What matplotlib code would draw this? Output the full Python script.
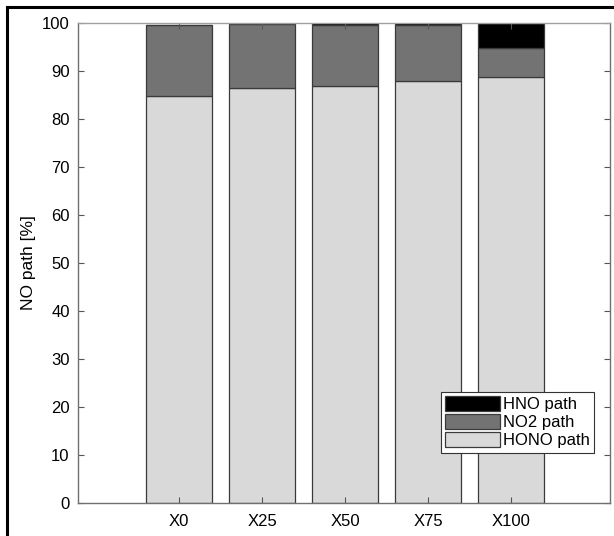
import matplotlib.pyplot as plt
from matplotlib.lines import Line2D
import numpy as np

plt.rcParams['font.family'] = ['Liberation Sans', 'DejaVu Sans']

categories = ['X0', 'X25', 'X50', 'X75', 'X100']
hono = [84.8, 86.4, 86.9, 88.0, 88.75]
no2 = [14.7, 13.3, 12.75, 11.6, 5.98]
hno = [0.0, 0.0, 0.3, 0.35, 5.27]

fig = plt.figure(figsize=(6.14, 5.36), dpi=100)
ax = fig.add_axes([0.127, 0.0616, 0.866, 0.8955])

x = np.arange(1, len(categories) + 1)
edge = '#3a3a3a'
b1 = ax.bar(x, hono, 0.8, color='#d9d9d9', edgecolor=edge, linewidth=0.9, label='HONO path')
b2 = ax.bar(x, no2, 0.8, bottom=hono, color='#737373', edgecolor=edge, linewidth=0.9, label='NO2 path')
b3 = ax.bar(x, hno, 0.8, bottom=np.add(hono, no2), color='black', edgecolor=edge, linewidth=0.9,
            label='HNO path')

ax.set_xlim(-0.22, 6.19)
ax.set_ylim(0, 100)
ax.set_xticks(x)
ax.set_xticklabels(categories)
ax.set_yticks(np.arange(0, 101, 10))
ax.tick_params(direction='in', top=True, right=True, length=4, width=0.8,
               color='#555555', labelsize=12, pad=8)
ax.tick_params(axis='y', pad=6)
for s in ax.spines.values():
    s.set_color('#707070')
    s.set_linewidth(1.0)
ax.spines['top'].set_color('#a0a0a0')
ax.set_ylabel('NO path [%]', fontsize=12.5, labelpad=4)

leg = ax.legend(handles=[b3, b2, b1], loc='lower right', bbox_to_anchor=(0.97, 0.105),
                fontsize=12, fancybox=False, framealpha=1, edgecolor='#333333',
                handlelength=3.3, handleheight=1.0, handletextpad=0.15,
                labelspacing=0.12, borderpad=0.25, borderaxespad=0)
leg.get_frame().set_linewidth(0.8)

# frame lines of the original picture
fig.add_artist(Line2D([7 / 614, 7 / 614], [0, 1 - 7 / 536], color='black', lw=2.2))
fig.add_artist(Line2D([7 / 614, 1], [1 - 7 / 536, 1 - 7 / 536], color='black', lw=2.2))

fig.savefig('out.png', dpi=100)
